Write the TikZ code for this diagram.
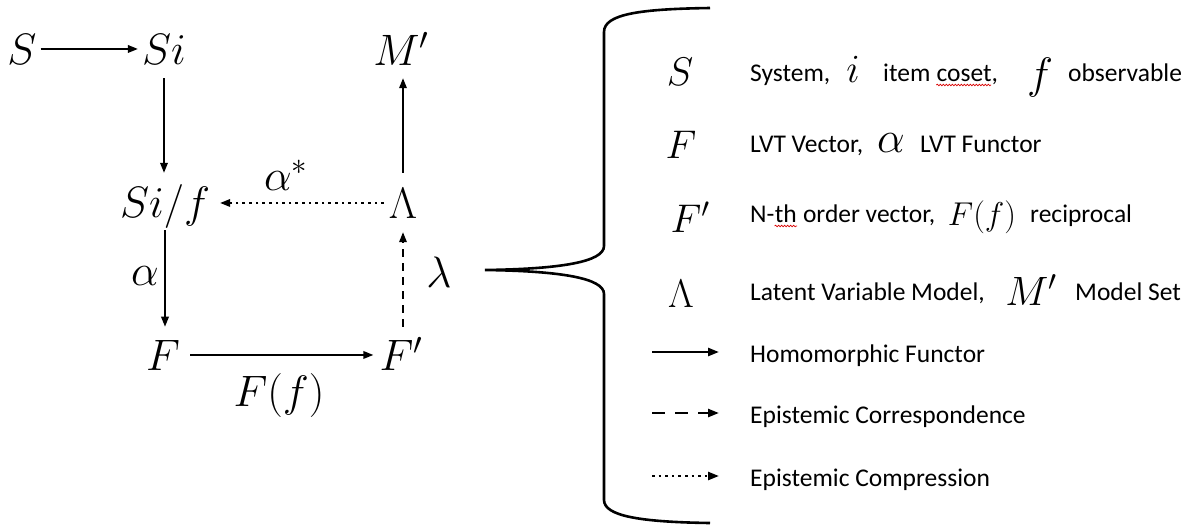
\RequirePackage{fix-cm}
\documentclass[tikz,border=0pt]{standalone}
\usepackage{fontspec}
\setmainfont{Carlito}
\usetikzlibrary{arrows.meta,calc,decorations.pathmorphing}
\begin{document}
\begin{tikzpicture}[x=1pt,y=-1pt,
  every node/.style={inner sep=0pt},
  dm/.style={font=\fontsize{44}{52}\selectfont, anchor=base},
  lg/.style={font=\fontsize{40}{48}\selectfont, anchor=base},
  tx/.style={font=\fontsize{25.5}{30}\selectfont, anchor=base west},
  hom/.style={line width=1.8pt, -{Triangle[length=10pt,width=7.5pt]}},
  cor/.style={hom, dash pattern=on 8pt off 6pt},
  cmp/.style={hom, dash pattern=on 2.6pt off 4pt},
  khom/.style={line width=2.4pt, -{Triangle[length=11pt,width=8pt]}},
  kcor/.style={khom, dash pattern=on 13pt off 10pt},
  kcmp/.style={khom, dash pattern=on 2.6pt off 4pt},
  squig/.style={red!85!black, line width=0.7pt, decorate,
    decoration={snake, amplitude=0.8pt, segment length=3pt}},
  brace/.style={line width=2.6pt}
]
\useasboundingbox (0,0) rectangle (1191,531);

% ---------- diagram ----------
\node[dm] (S)   at (22,64)   {$S$};
\node[dm] (Si)  at (164,64)  {$Si$};
\node[dm] (Mp)  at (401,65)  {$M'$};
\node[dm] (Sif) at (165,217) {$Si/f$};
\node[dm] (L)   at (403,218) {$\Lambda$};
\node[dm] (F)   at (163,370) {$F$};
\node[dm] (Fp)  at (401,370) {$F'$};
\node[dm] (las) at (286,190) {$\alpha^*$};
\node[dm] (la)  at (145,285) {$\alpha$};
\node[dm] (ll)  at (439,287) {$\lambda$};
\node[dm] (lFf) at (279,406) {$F(f)$};

\draw[hom, shorten <=4pt, shorten >=4pt] (S.east) -- (S.east -| Si.west);
\draw[hom, shorten <=14pt, shorten >=11pt] (Si.south) -- (Si.south |- Sif.north);
\draw[hom, shorten <=2pt, shorten >=13pt] (Sif.south) -- (Sif.south |- F.north);
\draw[hom, shorten <=10pt, shorten >=6pt] (F.east) -- (F.east -| Fp.west);
\draw[cor, shorten <=13pt, shorten >=14pt] (L.south |- F.north) -- (L.south);
\draw[hom, shorten <=15pt, shorten >=13pt] (L.north) -- (L.north |- Mp.south);
\draw[cmp, shorten <=5pt, shorten >=10pt] (L.west) -- (L.west -| Sif.east);

% ---------- brace ----------
\draw[brace] (710,8) .. controls (640,9) and (604,14) .. (604,32)
  -- (604,246) .. controls (604,262) and (560,269) .. (485,270)
  .. controls (560,271) and (604,278) .. (604,294)
  -- (604,500) .. controls (604,516) and (640,522) .. (710,523);

% ---------- legend ----------
\node[lg] (kS)  at (680,85)  {$S$};
\node[lg] (kF)  at (681,158) {$F$};
\node[lg] (kFp) at (690,232) {$F'$};
\node[lg] (kL)  at (681,307) {$\Lambda$};

\node[tx] (t1a) at (750,81) {System,};
\node[lg] (t1i) at (853,82) {$i$};
\node[tx] (t1b) at (883,81) {item};
\node[tx] (t1c) at ($(t1b.base east)+(5.8,0)$) {coset,};
\node[dm] (t1f) at (1040,88) {$f$};
\node[tx] (t1d) at (1068,81) {observable};
\draw[squig] ($(t1c.base west)+(0,4)$) -- ($(t1c.base east)+(-7,4)$);

\node[tx] (t2a) at (750,152) {LVT Vector,};
\node[dm] (t2al) at (891,152) {$\alpha$};
\node[tx] (t2b) at (920,152) {LVT Functor};

\node[tx] (t3a) at (750,222) {N-};
\node[tx] (t3b) at (t3a.base east) {th};
\node[tx] (t3c) at ($(t3b.base east)+(5.8,0)$) {order vector,};
\node[font=\fontsize{33}{40}\selectfont, anchor=base] (t3F) at (982,225) {$F(f)$};
\node[tx] (t3d) at (1030,222) {reciprocal};
\draw[squig] ($(t3b.base west)+(0,4)$) -- ($(t3b.base east)+(0,4)$);

\node[tx] (t4a) at (750,300) {Latent Variable Model,};
\node[font=\fontsize{41}{48}\selectfont, anchor=base] (t4M) at (1031,305) {$M'$};
\node[tx] (t4b) at (1075,300) {Model Set};

\coordinate (a1s) at (652,352); \coordinate (a1e) at (719,352);
\coordinate (a2s) at (652,413); \coordinate (a2e) at (719,413);
\coordinate (a3s) at (652,476); \coordinate (a3e) at (719,476);
\draw[khom] (a1s) -- (a1e);
\draw[kcor] (a2s) -- (a2e);
\draw[kcmp] (a3s) -- (a3e);
\node[tx] (t5) at (750,362) {Homomorphic Functor};
\node[tx] (t6) at (750,423) {Epistemic Correspondence};
\node[tx] (t7) at (750,486) {Epistemic Compression};
\end{tikzpicture}
\end{document}
